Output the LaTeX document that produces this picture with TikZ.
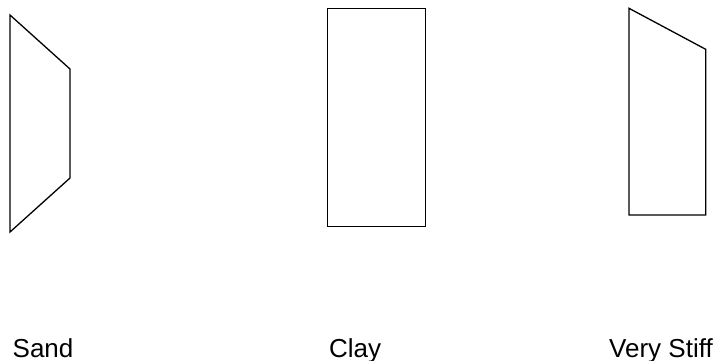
\documentclass[tikz,border=0pt]{standalone}
\usepackage{fontspec}
\setmainfont{Liberation Sans}
\begin{document}
\begin{tikzpicture}[x=1pt,y=-1pt,
  outline/.style={draw=black,line width=1.3pt,line join=miter},
  lbl/.style={anchor=base west,inner sep=0pt,font=\fontsize{26}{30}\selectfont}]
\useasboundingbox (0,0) rectangle (727,360);
% Sand
\draw[outline] (10,15) -- (70,69) -- (70,178) -- (10,232) -- cycle;
% Clay
\draw[outline] (327.3,8.3) rectangle (425.7,226.7);
% Very Stiff
\draw[outline] (629,8.3) -- (705.7,49.3) -- (705.7,215) -- (629,215) -- cycle;
\node[lbl] (sand) at (12.5,357) {Sand};
\node[lbl] (clay) at (329,357) {Clay};
\node[lbl] (stiff) at (609,357) {Very Stiff};
\end{tikzpicture}
\end{document}
